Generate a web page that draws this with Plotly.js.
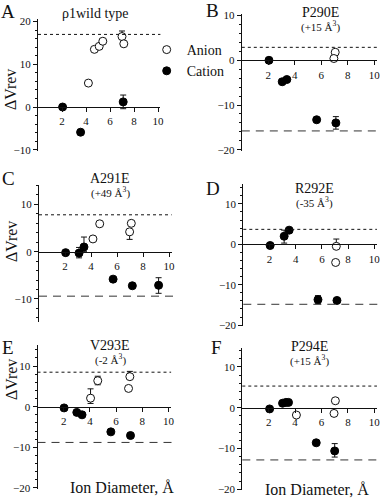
<!DOCTYPE html>
<html><head><meta charset="utf-8">
<script src="https://cdn.plot.ly/plotly-3.0.1.min.js"></script>
<style>html,body{margin:0;padding:0;background:#fff}#chart{width:381px;height:500px}</style>
</head><body><div id="chart"></div>
<script>
// ---------- DATA ----------
const panelNames = ["ρ1wild type", "P290E", "A291E", "R292E", "V293E", "P294E"];
const volumeChanges = ["", "(+15 Å<sup>3</sup>)", "(+49 Å<sup>3</sup>)", "(-35 Å<sup>3</sup>)", "(-2 Å<sup>3</sup>)", "(+15 Å<sup>3</sup>)"];
const panelLetters = ["A", "B", "C", "D", "E", "F"];
const xTickVals = [2, 4, 6, 8, 10];
const yTickVals = [-20, -10, 0, 10, 20];

// Anion (open circles)
const anionX = [
  [4.2, 4.7, 5.1, 5.4, 7.0, 7.15],
  [7.05, 6.95],
  [4.15, 4.67, 7.1, 6.97],
  [7.1, 7.05],
  [4.05, 4.6, 6.95, 7.05],
  [4.1, 7.05, 6.95]
];
const anionY = [
  [5.6, 13.5, 14.2, 15.4, 16.5, 14.8],
  [1.8, 0.4],
  [2.7, 5.9, 6.0, 4.2],
  [-0.5, -4.5],
  [2.1, 6.4, 4.5, 7.4],
  [-1.8, 1.7, -1.4]
];
const anionErrPlus = [
  [0, 0, 0, 0, 1.3, 0],
  [0, 0],
  [0, 0, 0, 0],
  [1.8, 0],
  [2.3, 1.1, 0, 1.3],
  [0, 0, 0]
];
const anionErrMinus = [
  [0, 0, 0, 0, 0, 0],
  [0, 0],
  [0, 0, 0, 1.6],
  [0, 0],
  [1.3, 1.0, 0, 0],
  [0, 0, 0]
];

// Cation (filled circles)
const cationX = [
  [2.05, 3.55, 7.1],
  [2.05, 3.05, 3.4, 5.65, 7.1],
  [2.05, 3.08, 3.46, 5.7, 7.18, 9.2],
  [2.05, 3.12, 3.5, 5.7, 7.15],
  [2.03, 3.0, 3.4, 5.6, 7.1],
  [2.07, 3.05, 3.3, 3.5, 5.6, 7.0]
];
const cationY = [
  [0, -5.9, 1.2],
  [0, -4.8, -4.3, -13.3, -14.0],
  [-0.2, -0.3, 1.0, -5.8, -7.2, -7.1],
  [-0.3, 2.0, 3.5, -13.7, -13.9],
  [-0.3, -1.4, -2.0, -6.2, -7.1],
  [-0.3, 1.1, 1.3, 1.3, -8.6, -10.6]
];
const cationErrPlus = [
  [0, 0, 1.6],
  [0, 0, 0, 0, 1.4],
  [0, 1.2, 2.1, 0, 0, 1.6],
  [0, 1.5, 0, 1.0, 0],
  [0, 0, 0, 0, 0],
  [0, 0, 0, 0, 0, 1.8]
];
const cationErrMinus = [
  [0, 0, 1.6],
  [0, 0, 0, 0, 1.4],
  [0, 1.0, 1.0, 0, 0, 1.7],
  [0, 1.7, 0, 1.0, 0],
  [0, 0, 0, 0, 0],
  [0, 0, 0, 0, 0, 1.5]
];

// Reference levels (dotted = anion limit, dashed = cation limit)
const dottedLevel = [17, 2.9, 7.8, 3.7, 8.5, 5.3];
const dashedLevel = [null, -15.8, -9.4, -14.85, -8.8, -12.8];

// ---------- LAYOUT (pixel geometry of each panel) ----------
const W = 381, H = 500;
const FONT = "Liberation Serif, Times New Roman, serif";
// x0: pixel of x=0, xs: px per unit, y0: pixel of y=0, ys: px per unit, yr: y range
const geo = [
  {x0: 38,    xs: 12.0,  y0: 107,   ys: 4.27, yr: [-10.3, 20.5]},
  {x0: 241.8, xs: 13.25, y0: 60.3,  ys: 4.47, yr: [-20.3, 10.4]},
  {x0: 39,    xs: 13.0,  y0: 251.7, ys: 4.73, yr: [-14.8, 14.1]},
  {x0: 243.3, xs: 13.1,  y0: 244.3, ys: 4.04, yr: [-20.3, 14.9]},
  {x0: 37.5,  xs: 13.1,  y0: 406.7, ys: 4.06, yr: [-20.2, 15.2]},
  {x0: 242.3, xs: 13.2,  y0: 407.7, ys: 4.08, yr: [-20.2, 14.6]}
];
const XMAX = 10.2;

const traces = [];
const layout = {
  width: W, height: H,
  margin: {l: 0, r: 0, t: 0, b: 0},
  paper_bgcolor: "#fff", plot_bgcolor: "rgba(0,0,0,0)",
  font: {family: FONT, color: "#111", size: 11},
  showlegend: true,
  legend: {x: 0.385, y: 0.932, xanchor: "left", yanchor: "top",
           bgcolor: "rgba(0,0,0,0)", borderwidth: 0,
           font: {family: FONT, size: 14, color: "#111"}, tracegroupgap: 0},
  shapes: [], annotations: []
};

for (let i = 0; i < 6; i++) {
  const g = geo[i];
  const n = i === 0 ? "" : String(i + 1);
  const xa = "x" + n, ya = "y" + n;
  const xd = [g.x0 / W, (g.x0 + g.xs * XMAX) / W];
  const topPx = g.y0 - g.ys * g.yr[1], botPx = g.y0 - g.ys * g.yr[0];
  const yd = [1 - botPx / H, 1 - topPx / H];

  layout["xaxis" + n] = {
    domain: xd, range: [0, XMAX], anchor: "free", position: 1 - g.y0 / H,
    showgrid: false, zeroline: false, showline: true, linecolor: "#111", linewidth: 1,
    tickmode: "array", tickvals: xTickVals, ticks: "outside", ticklen: 4, tickwidth: 1,
    tickcolor: "#111", tickfont: {family: FONT, size: 11, color: "#111"}, fixedrange: true
  };
  layout["yaxis" + n] = {
    domain: yd, range: g.yr, anchor: xa,
    showgrid: false, zeroline: false, showline: true, linecolor: "#111", linewidth: 1,
    tickmode: "array", tickvals: yTickVals, ticks: "outside", ticklen: 4, tickwidth: 1,
    tickcolor: "#111", tickfont: {family: FONT, size: 11, color: "#111"},
    minor: {dtick: 2, tick0: 0, ticks: "outside", ticklen: 2, tickcolor: "#111", tickwidth: 1},
    fixedrange: true
  };

  // reference lines
  layout.shapes.push({type: "line", xref: xa + " domain", yref: ya, x0: 0, x1: 1,
    y0: dottedLevel[i], y1: dottedLevel[i], line: {color: "#111", width: 1, dash: "dot"}});
  if (dashedLevel[i] !== null) {
    layout.shapes.push({type: "line", xref: xa + " domain", yref: ya, x0: 0, x1: 1.03,
      y0: dashedLevel[i], y1: dashedLevel[i], line: {color: "#333", width: 1, dash: "8px,6px"}});
  }

  traces.push({
    type: "scatter", mode: "markers", xaxis: xa, yaxis: ya,
    x: cationX[i], y: cationY[i], name: "Cation", legendgroup: "cation",
    showlegend: i === 0, legendrank: 2,
    marker: {symbol: "circle", size: 8, color: "#000", line: {color: "#000", width: 1}},
    error_y: {type: "data", symmetric: false, array: cationErrPlus[i], arrayminus: cationErrMinus[i],
              color: "#111", thickness: 1, width: 3},
    cliponaxis: false
  });
  traces.push({
    type: "scatter", mode: "markers", xaxis: xa, yaxis: ya,
    x: anionX[i], y: anionY[i], name: "Anion", legendgroup: "anion",
    showlegend: i === 0, legendrank: 1,
    marker: {symbol: "circle", size: 8, color: "#fff", line: {color: "#111", width: 1}},
    error_y: {type: "data", symmetric: false, array: anionErrPlus[i], arrayminus: anionErrMinus[i],
              color: "#111", thickness: 1, width: 3},
    cliponaxis: false
  });

  // panel letter
  const letterPos = [[8, 11], [212, 10], [8, 178], [213, 188], [8, 347], [216, 347]][i];
  layout.annotations.push({xref: "paper", yref: "paper", x: letterPos[0] / W, y: 1 - letterPos[1] / H,
    xanchor: "center", yanchor: "middle", showarrow: false, text: panelLetters[i],
    font: {family: FONT, size: 19, color: "#111"}});
  // panel title
  const titlePos = [[95, 13], [320, 12], [110, 178], [314, 188], [110, 345], [309, 346]][i];
  layout.annotations.push({xref: "paper", yref: "paper", x: titlePos[0] / W, y: 1 - titlePos[1] / H,
    xanchor: "center", yanchor: "middle", showarrow: false, text: panelNames[i],
    font: {family: FONT, size: 14, color: "#111"}});
  if (volumeChanges[i]) {
    layout.annotations.push({xref: "paper", yref: "paper", x: titlePos[0] / W, y: 1 - (titlePos[1] + 14) / H,
      xanchor: "center", yanchor: "middle", showarrow: false, text: volumeChanges[i],
      font: {family: FONT, size: 11, color: "#111"}});
  }
}

// y-axis titles (left column)
[[11, 90], [11, 242], [11, 380]].forEach(p => {
  layout.annotations.push({xref: "paper", yref: "paper", x: p[0] / W, y: 1 - p[1] / H,
    xanchor: "center", yanchor: "middle", showarrow: false, textangle: -90, text: "ΔVrev",
    font: {family: FONT, size: 16, color: "#111"}});
});
// x-axis titles (bottom row)
[[122, 487], [317, 489]].forEach(p => {
  layout.annotations.push({xref: "paper", yref: "paper", x: p[0] / W, y: 1 - p[1] / H,
    xanchor: "center", yanchor: "middle", showarrow: false, text: "Ion Diameter, Å",
    font: {family: FONT, size: 16, color: "#111"}});
});

Plotly.newPlot("chart", traces, layout, {displayModeBar: false, staticPlot: true});
</script>
</body></html>
